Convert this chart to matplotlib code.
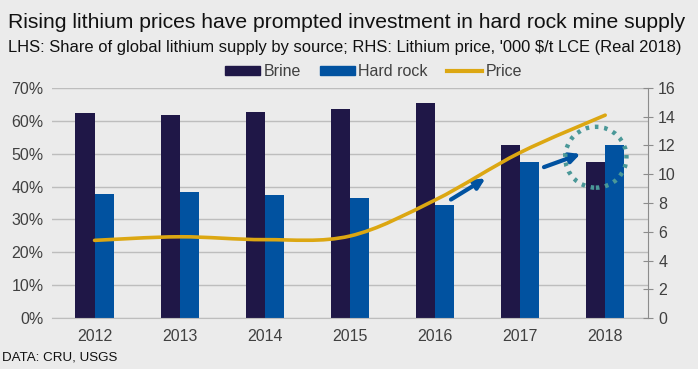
import numpy as np
import matplotlib
matplotlib.use('Agg')
from matplotlib import pyplot as plt
from matplotlib.path import Path
from matplotlib.patches import PathPatch, Ellipse, Patch
from matplotlib.lines import Line2D
from matplotlib.ticker import PercentFormatter

years = ['2012', '2013', '2014', '2015', '2016', '2017', '2018']
brine = [62.3, 61.7, 62.5, 63.5, 65.5, 52.5, 47.5]
hard_rock = [37.7, 38.2, 37.5, 36.5, 34.5, 47.5, 52.5]
price = [5.4, 5.65, 5.45, 5.7, 8.2, 11.5, 14.1]

BG = '#ebebeb'
BRINE_C = '#1f1747'
ROCK_C = '#0152a0'
PRICE_C = '#dca712'
GRID_C = '#bdbdbd'
TEXT_C = '#404040'

plt.rcParams['font.family'] = ['Liberation Sans', 'DejaVu Sans']


'''
Smooth curve through the points (Catmull-Rom style, like Excel smoothing).
'''
def smooth_path(xs, ys, t=1/6):
    pts = np.column_stack([xs, ys]).astype(float)
    verts = [pts[0]]
    codes = [Path.MOVETO]
    n = len(pts)
    for i in range(n - 1):
        p0 = pts[i - 1] if i > 0 else pts[i]
        p1 = pts[i]
        p2 = pts[i + 1]
        p3 = pts[i + 2] if i + 2 < n else pts[i + 1]
        c1 = p1 + (p2 - p0) * t
        c2 = p2 - (p3 - p1) * t
        verts += [c1, c2, p2]
        codes += [Path.CURVE4] * 3
    return Path(verts, codes)


fig = plt.figure(figsize=(6.98, 3.69), dpi=100, facecolor=BG)
ax = fig.add_axes([0.0745, 0.138, 0.8535, 0.624])
ax.set_facecolor(BG)

x = np.arange(len(years))
w = 0.225
ax.bar(x - w / 2, brine, w, color=BRINE_C, zorder=2)
ax.bar(x + w / 2, hard_rock, w, color=ROCK_C, zorder=2)

ax.set_xlim(-0.5, len(years) - 0.5)
ax.set_ylim(0, 70)
ax.set_yticks(range(0, 71, 10))
ax.yaxis.set_major_formatter(PercentFormatter(decimals=0))
ax.set_xticks(x)
ax.set_xticklabels(years)
ax.grid(axis='y', color=GRID_C, linewidth=1, zorder=0)
ax.set_axisbelow(True)
for s in ['top', 'right', 'left']:
    ax.spines[s].set_visible(False)
ax.spines['bottom'].set_color(GRID_C)
ax.tick_params(axis='both', length=0, labelsize=11.5, colors=TEXT_C, pad=6)
ax.tick_params(axis='x', pad=8)

ax2 = ax.twinx()
ax2.set_ylim(0, 16)
ax2.set_yticks(range(0, 17, 2))
for s in ['top', 'left', 'bottom']:
    ax2.spines[s].set_visible(False)
ax2.spines['right'].set_color('#8c8c8c')
ax2.tick_params(axis='y', direction='inout', length=7, color='#8c8c8c',
                labelsize=11.5, labelcolor=TEXT_C, pad=4)
ax2.add_patch(PathPatch(smooth_path(x, price), facecolor='none', edgecolor=PRICE_C,
                        linewidth=2.6, zorder=3, capstyle='round'))

# annotations
ax.annotate('', xy=(4.62, 42.9), xytext=(4.16, 35.6),
            arrowprops=dict(arrowstyle='-|>,head_length=0.6,head_width=0.3', color=ROCK_C, lw=3), zorder=4)
ax.annotate('', xy=(5.74, 50.2), xytext=(5.25, 45.6),
            arrowprops=dict(arrowstyle='-|>,head_length=0.6,head_width=0.3', color=ROCK_C, lw=3), zorder=4)
ax.add_patch(Ellipse((5.89, 48.9), 0.72, 18.5, fill=False, edgecolor='#4a9898',
                     linewidth=3.2, linestyle=(0, (0.8, 1.3)), zorder=5))

handles = [Patch(color=BRINE_C), Patch(color=ROCK_C),
           Line2D([0], [0], color=PRICE_C, lw=3)]
fig.legend(handles, ['Brine', 'Hard rock', 'Price'], loc='center',
           bbox_to_anchor=(0.535, 0.805), ncol=3, frameon=False, fontsize=11.5,
           handlelength=2.2, handleheight=0.5, handletextpad=0.2, columnspacing=1.2,
           labelcolor=TEXT_C)

fig.text(0.012, 0.94, 'Rising lithium prices have prompted investment in hard rock mine supply',
         fontsize=15.2, color='#111111', va='center')
fig.text(0.012, 0.87, "LHS: Share of global lithium supply by source; RHS: Lithium price, '000 $/t LCE (Real 2018)",
         fontsize=11.9, color='#111111', va='center')
fig.text(0.003, 0.03, 'DATA: CRU, USGS', fontsize=9.6, color='#111111', va='center')

fig.savefig('out.png', dpi=100, facecolor=BG)
